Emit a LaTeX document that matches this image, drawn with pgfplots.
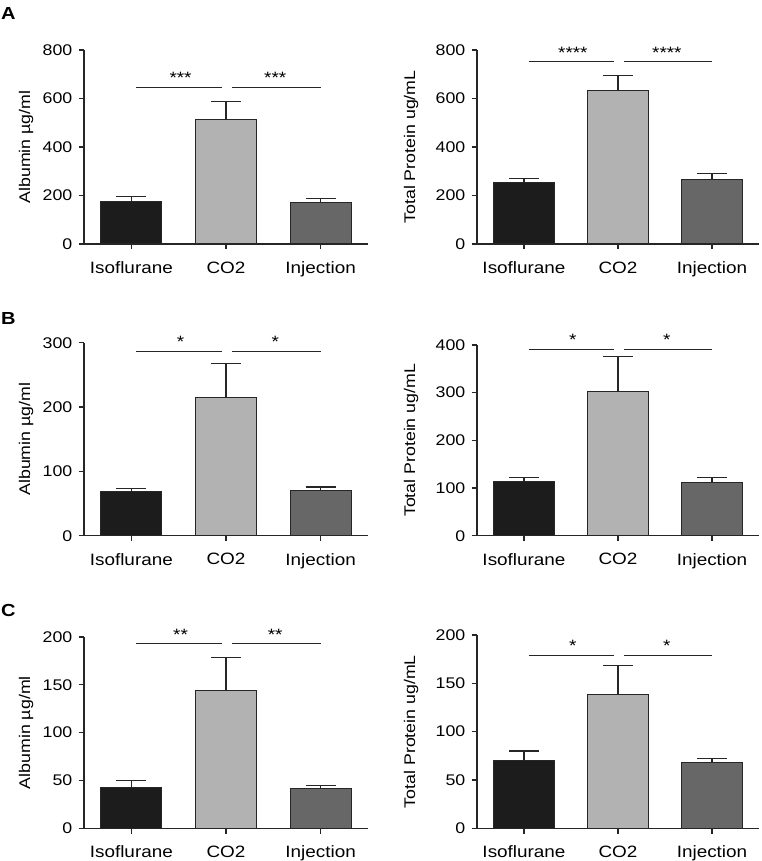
\documentclass[border=0pt]{standalone}
\usepackage{fontspec}
\setmainfont{Liberation Sans}[FakeStretch=1.15]
\usepackage{pgfplots}
\pgfplotsset{compat=1.18}

\definecolor{isoC}{HTML}{1C1C1C}
\definecolor{co2C}{HTML}{B2B2B2}
\definecolor{injC}{HTML}{676767}
\definecolor{axC}{HTML}{262626}

\pgfplotsset{
 panel/.style={
  scale only axis, width=284bp,
  axis lines=left, axis line style={-, line width=1.1bp, axC},
  xmin=-0.5, xmax=2.5, ymin=0,
  xtick={0,1,2}, xticklabels={Isoflurane,CO2,Injection},
  tick align=outside, major tick length=5.5bp,
  every tick/.style={line width=1.1bp, axC},
  /pgf/number format/assume math mode=true,
  yticklabel style={font=\fontsize{15.5}{18}\selectfont, inner sep=0pt, xshift=-6bp},
  xticklabel style={font=\fontsize{16.5}{19}\selectfont, inner sep=0pt, anchor=north, yshift=-12bp},
  ylabel style={font=\fontsize{15.5}{18}\selectfont, anchor=center},
  clip=false,
 },
 bars/.style={ybar, bar width=61bp, bar shift=0pt, draw=axC, line width=1bp,
   error bars/.cd, y dir=plus, y explicit,
   error bar style={line width=1.1bp, axC},
   error mark options={rotate=90, mark size=15bp, line width=1.1bp, axC},
   /pgfplots/.cd},
}
\tikzset{
 sig/.style={line width=1bp, axC},
 star/.style={anchor=base, yshift=3.5bp, inner sep=0pt, font=\fontsize{16.5}{19}\selectfont},
}

\newcommand{\threebars}[6]{%
  \addplot[fill=isoC, bars] coordinates {(0,#1) +- (0,#2)};
  \addplot[fill=co2C, bars] coordinates {(1,#3) +- (0,#4)};
  \addplot[fill=injC, bars] coordinates {(2,#5) +- (0,#6)};
}
\newcommand{\sigbars}[2]{%
  \draw[sig] (axis cs:0.05,#1) -- (axis cs:0.96,#1);
  \draw[sig] (axis cs:1.06,#1) -- (axis cs:2.0,#1);
  \node[star] at (axis cs:0.52,#1) {#2};
  \node[star] at (axis cs:1.52,#1) {#2};
}

\begin{document}
\begin{tikzpicture}
\path[use as bounding box] (0,0) rectangle (762bp,861bp);

% Panel letters
\node[anchor=base west, inner sep=0pt, font=\fontsize{17.5}{20}\selectfont\bfseries] at (1bp,841bp) {A};
\node[anchor=base west, inner sep=0pt, font=\fontsize{17.5}{20}\selectfont\bfseries] at (1bp,536bp) {B};
\node[anchor=base west, inner sep=0pt, font=\fontsize{17.5}{20}\selectfont\bfseries] at (1bp,244.3bp) {C};

% ---- A left
\begin{axis}[panel, at={(84bp,617bp)}, anchor=south west, height=194bp,
  ymax=800, ytick={0,200,400,600,800}, ylabel={Albumin µg/ml},
  ylabel style={at={(axis description cs:-0.204,0.5)}}]
  \threebars{174}{21}{514}{73}{170}{17}
  \sigbars{646}{***}
\end{axis}

% ---- A right
\begin{axis}[panel, width=282bp, at={(477bp,617bp)}, anchor=south west, height=194bp,
  ymax=800, ytick={0,200,400,600,800}, ylabel={Total Protein ug/mL},
  ylabel style={at={(axis description cs:-0.234,0.5)}}]
  \threebars{253}{18}{634}{59}{264}{26}
  \sigbars{752}{****}
\end{axis}

% ---- B left
\begin{axis}[panel, at={(84bp,325.3bp)}, anchor=south west, height=193bp,
  ymax=300, ytick={0,100,200,300}, ylabel={Albumin µg/ml},
  ylabel style={at={(axis description cs:-0.204,0.5)}}]
  \threebars{68.5}{5.3}{214.5}{53.5}{70}{5.7}
  \sigbars{287}{*}
\end{axis}

% ---- B right
\begin{axis}[panel, width=282bp, at={(477bp,325.3bp)}, anchor=south west, height=190.7bp,
  ymax=400, ytick={0,100,200,300,400}, ylabel={Total Protein ug/mL},
  ylabel style={at={(axis description cs:-0.234,0.5)}}]
  \threebars{113}{10}{303.5}{72.5}{112.6}{10.4}
  \sigbars{391}{*}
\end{axis}

% ---- C left
\begin{axis}[panel, at={(84bp,32.7bp)}, anchor=south west, height=191.3bp,
  ymax=200, ytick={0,50,100,150,200}, ylabel={Albumin µg/ml},
  ylabel style={at={(axis description cs:-0.204,0.5)}}]
  \threebars{42.9}{6.9}{143.9}{34.9}{41.1}{3.4}
  \sigbars{193}{**}
\end{axis}

% ---- C right
\begin{axis}[panel, width=282bp, at={(477bp,32.7bp)}, anchor=south west, height=193.3bp,
  ymax=200, ytick={0,50,100,150,200}, ylabel={Total Protein ug/mL},
  ylabel style={at={(axis description cs:-0.234,0.5)}}]
  \threebars{70}{10}{138.6}{29.4}{67.6}{4.8}
  \sigbars{179}{*}
\end{axis}
\end{tikzpicture}
\end{document}
